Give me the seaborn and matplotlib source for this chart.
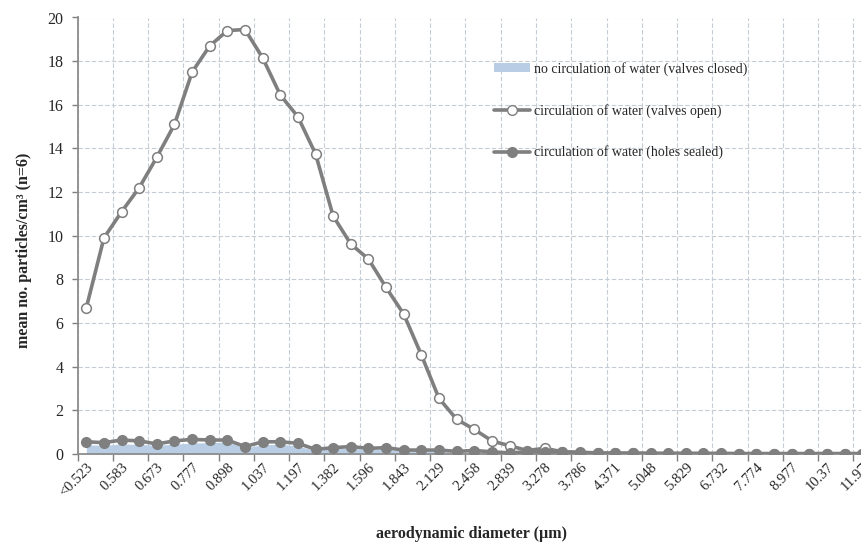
import matplotlib
matplotlib.use('Agg')
import matplotlib.pyplot as plt
import seaborn as sns
from matplotlib.lines import Line2D
from matplotlib.patches import Patch
from matplotlib.ticker import FixedLocator

# APS size channels shown on the axis (aerodynamic diameter, µm)
diameters = ['<0.523', '0.542', '0.583', '0.626', '0.673', '0.723', '0.777', '0.835',
             '0.898', '0.965', '1.037', '1.114', '1.197', '1.286', '1.382', '1.486',
             '1.596', '1.715', '1.843', '1.981', '2.129', '2.288', '2.458', '2.642',
             '2.839', '3.051', '3.278', '3.523', '3.786', '4.068', '4.371', '4.698',
             '5.048', '5.425', '5.829', '6.264', '6.732', '7.234', '7.774', '8.354',
             '8.977', '9.647', '10.37', '11.14', '11.97']

valves_closed = [0.42, 0.40, 0.46, 0.44, 0.40, 0.45, 0.50, 0.52, 0.55, 0.28,
                 0.42, 0.45, 0.36, 0.16, 0.24, 0.26, 0.20, 0.22, 0.14, 0.13,
                 0.12, 0.07, 0.09, 0.06, 0.04, 0.05, 0.05, 0.04, 0.03, 0.03,
                 0.02, 0.02, 0.02, 0.02, 0.02, 0.02, 0.02, 0.02, 0.02, 0.02,
                 0.02, 0.02, 0.02, 0.02, 0.02]

valves_open = [6.7, 9.9, 11.1, 12.2, 13.6, 15.1, 17.5, 18.7, 19.4, 19.45,
               18.15, 16.45, 15.45, 13.75, 10.9, 9.62, 8.93, 7.63, 6.41, 4.54,
               2.55, 1.59, 1.13, 0.60, 0.38, 0.16, 0.26, 0.10, 0.06, 0.04,
               0.03, 0.03, 0.02, 0.02, 0.02, 0.01, 0.01, 0.01, 0.01, 0.01,
               0.01, 0.01, 0.01, 0.01, 0.01]

holes_sealed = [0.56, 0.52, 0.64, 0.60, 0.46, 0.60, 0.67, 0.64, 0.64, 0.34,
                0.56, 0.56, 0.49, 0.21, 0.29, 0.34, 0.26, 0.29, 0.18, 0.18,
                0.18, 0.12, 0.16, 0.10, 0.05, 0.10, 0.10, 0.10, 0.08, 0.05,
                0.04, 0.04, 0.03, 0.03, 0.03, 0.03, 0.03, 0.02, 0.02, 0.02,
                0.02, 0.02, 0.02, 0.02, 0.02]

labels = ['no circulation of water (valves closed)',
          'circulation of water (valves open)',
          'circulation of water (holes sealed)']

GREY = '#7f7f7f'
BLUE = '#b9cde5'
GRID = '#c5ccd6'

sns.set_theme(style='white')
plt.rcParams['font.family'] = ['Liberation Serif', 'DejaVu Serif']

idx = list(range(len(diameters)))

fig = plt.figure(figsize=(8.62, 5.42), dpi=100)
# plot area runs a little past the right edge, as in the cropped original
ax = fig.add_axes([77.5 / 862, 88 / 542, 793.5 / 862, 436.5 / 542])

ax.fill_between(idx, valves_closed, 0, color=BLUE, lw=0, zorder=2)
sns.lineplot(x=idx, y=valves_open, ax=ax, color=GREY, lw=2.6, marker='o',
             markersize=7, markerfacecolor='white', markeredgecolor=GREY,
             markeredgewidth=1.1, zorder=3)
sns.lineplot(x=idx, y=holes_sealed, ax=ax, color=GREY, lw=2.6, marker='o',
             markersize=7, markerfacecolor=GREY, markeredgecolor=GREY,
             markeredgewidth=1.0, zorder=4)

ax.set_xlim(-0.5, len(diameters) - 0.5)
ax.set_ylim(0, 20)
ax.set_yticks(range(0, 21, 2))
ax.set_xticks(idx[::2])
ax.set_xticklabels(diameters[::2], rotation=45, ha='right', rotation_mode='anchor',
                   fontsize=10.5)
ax.xaxis.set_minor_locator(FixedLocator([i - 0.5 for i in range(0, len(diameters) + 1, 2)]))
ax.tick_params(axis='x', which='major', length=0, pad=5)
ax.tick_params(axis='x', which='minor', length=5, width=1, color=GREY, direction='out',
               bottom=True)
ax.tick_params(axis='y', length=4, width=1, color=GREY, direction='out', left=True,
               labelsize=11.5, pad=6)

ax.grid(True, axis='y', which='major', color=GRID, lw=0.8, ls=(0, (4, 2)))
ax.grid(True, axis='x', which='minor', color=GRID, lw=0.8, ls=(0, (4, 2)))
ax.grid(False, axis='x', which='major')
ax.set_axisbelow(True)

for s in ['top', 'right']:
    ax.spines[s].set_visible(False)
for s in ['left', 'bottom']:
    ax.spines[s].set_color('#8c8c8c')
    ax.spines[s].set_linewidth(1.3)

ax.set_ylabel('mean no. particles/cm³ (n=6)', fontsize=11.5, fontweight='bold')
ax.yaxis.set_label_coords(-0.057, 0.467)
ax.set_xlabel('aerodynamic diameter (µm)', fontsize=11.5, fontweight='bold')
ax.xaxis.set_label_coords(0.496, -0.165)

handles = [Patch(facecolor=BLUE, edgecolor='none'),
           Line2D([], [], color=GREY, lw=2.6, marker='o', markersize=7,
                  markerfacecolor='white', markeredgecolor=GREY),
           Line2D([], [], color=GREY, lw=2.6, marker='o', markersize=7,
                  markerfacecolor=GREY, markeredgecolor=GREY)]
leg = fig.legend(handles, labels, loc='upper left', bbox_to_anchor=(494 / 862, 1 - 62 / 542),
                 frameon=False, fontsize=10, handlelength=2.6, handleheight=0.6,
                 handletextpad=0.25, labelspacing=2.0, borderpad=0, borderaxespad=0)

fig.savefig('out.png', dpi=100)
